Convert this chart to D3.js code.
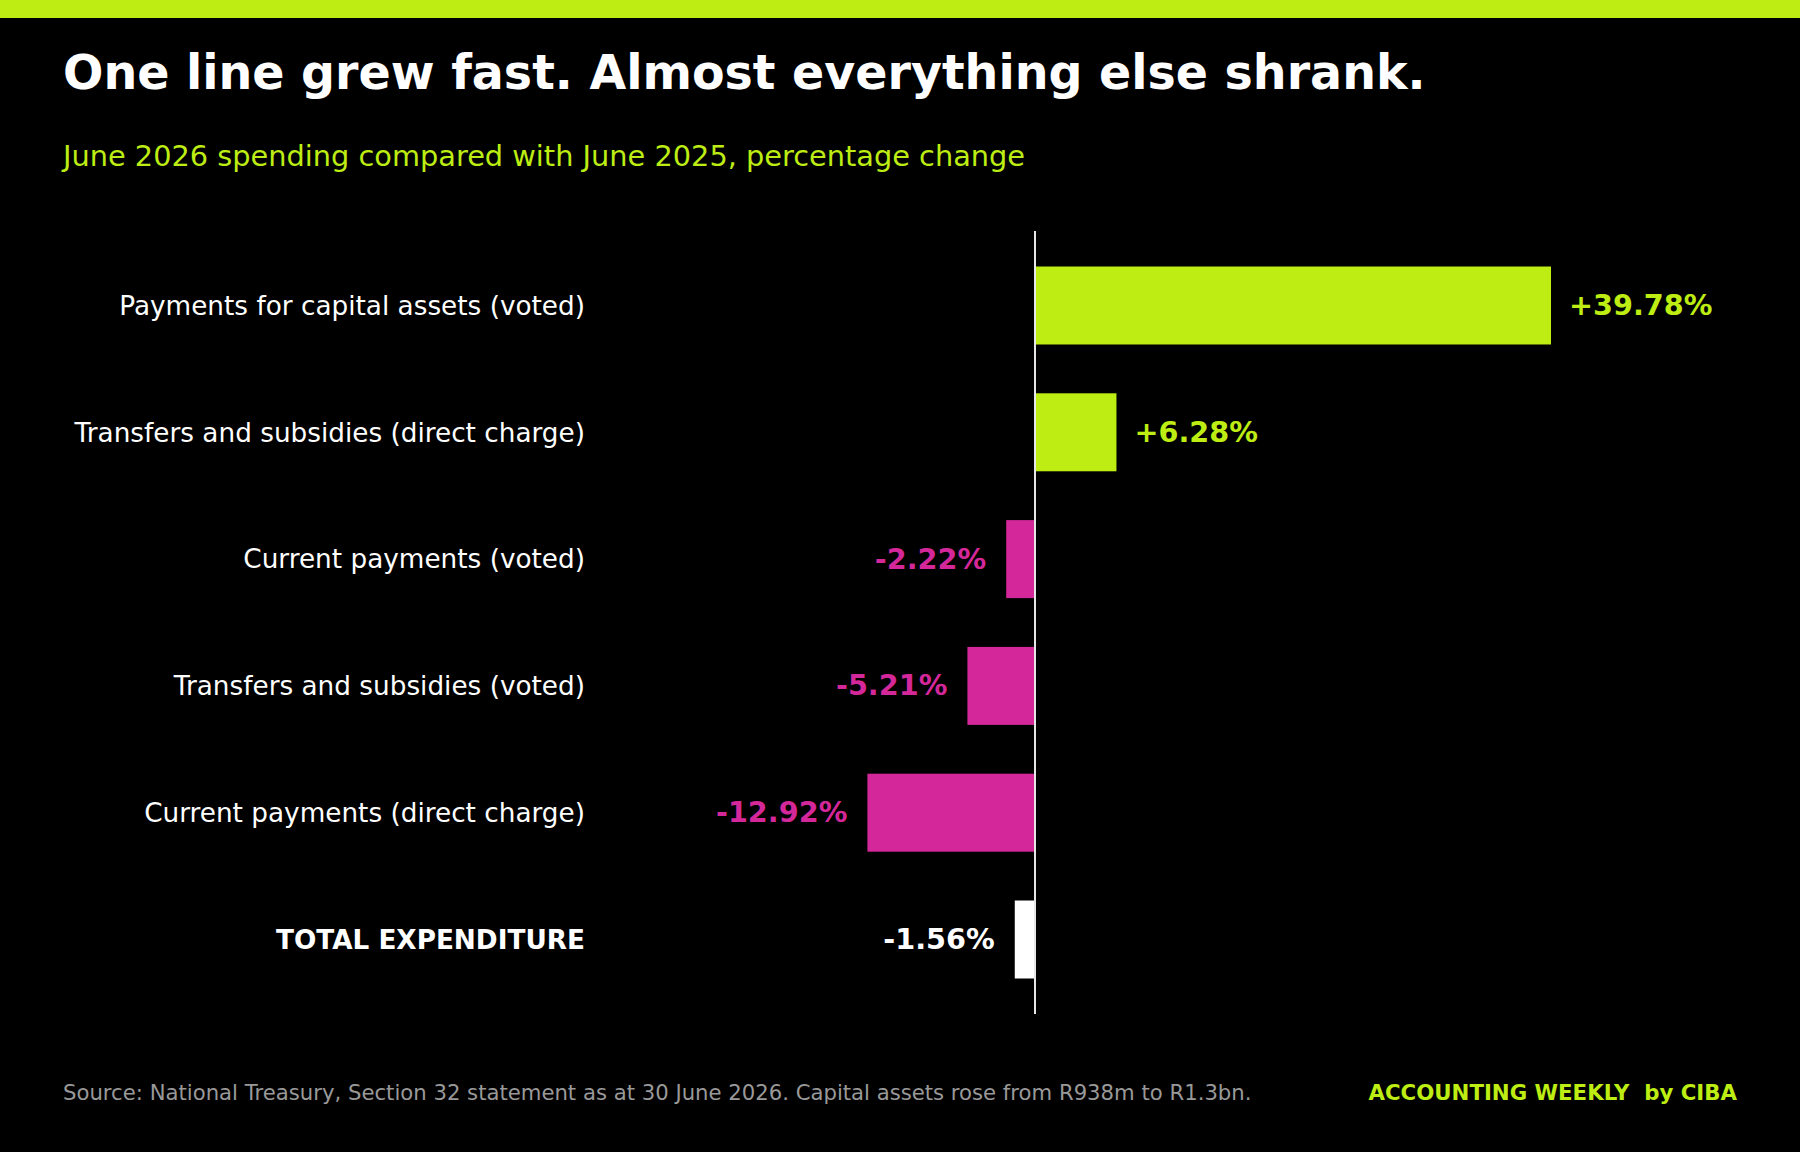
<!DOCTYPE html>
<html><head><meta charset="utf-8">
<script src="https://cdn.jsdelivr.net/npm/d3@7"></script>
<style>
html,body{margin:0;padding:0;background:#000;}
svg{display:block;font-family:"DejaVu Sans",sans-serif;}
</style></head>
<body>
<script>
const categories = [
  "Payments for capital assets (voted)",
  "Transfers and subsidies (direct charge)",
  "Current payments (voted)",
  "Transfers and subsidies (voted)",
  "Current payments (direct charge)",
  "TOTAL EXPENDITURE"
];
const values = [39.78, 6.28, -2.22, -5.21, -12.92, -1.56];
const valueLabels = ["+39.78%", "+6.28%", "-2.22%", "-5.21%", "-12.92%", "-1.56%"];
const totalCategory = "TOTAL EXPENDITURE";

const W = 1800, H = 1152;
const LIME = "#bded12", MAGENTA = "#d4289a", WHITE = "#ffffff";

const svg = d3.select("body").append("svg").attr("width", W).attr("height", H);
svg.append("rect").attr("width", W).attr("height", H).attr("fill", "#000");
svg.append("rect").attr("width", W).attr("height", 18).attr("fill", LIME);

svg.append("text").attr("x", 63).attr("y", 89).attr("fill", WHITE)
  .attr("font-size", 47.5).attr("font-weight", "bold")
  .text("One line grew fast. Almost everything else shrank.");
svg.append("text").attr("x", 63).attr("y", 166).attr("fill", LIME)
  .attr("font-size", 28.8)
  .text("June 2026 spending compared with June 2025, percentage change");

const x = d3.scaleLinear().domain([0, 39.78]).range([1035, 1551]);
const y = d3.scaleBand().domain(categories).range([231, 1014]).paddingInner(0.385).paddingOuter(0.28);

const color = (d, i) => categories[i] === totalCategory ? WHITE : (values[i] >= 0 ? LIME : MAGENTA);

const g = svg.append("g");
g.selectAll("rect.bar").data(values).join("rect").attr("class", "bar")
  .attr("x", d => x(Math.min(0, d)))
  .attr("width", d => Math.abs(x(d) - x(0)))
  .attr("y", (d, i) => y(categories[i]))
  .attr("height", y.bandwidth())
  .attr("fill", color);

g.append("line").attr("x1", x(0)).attr("x2", x(0)).attr("y1", 231).attr("y2", 1014)
  .attr("stroke", "#e6e6e6").attr("stroke-width", 2);

g.selectAll("text.val").data(values).join("text").attr("class", "val")
  .attr("x", d => d >= 0 ? x(d) + 18 : x(d) - 20)
  .attr("y", (d, i) => y(categories[i]) + y.bandwidth() / 2)
  .attr("dy", "0.33em")
  .attr("text-anchor", d => d >= 0 ? "start" : "end")
  .attr("font-size", 28.7).attr("font-weight", "bold")
  .attr("fill", color)
  .text((d, i) => valueLabels[i]);

g.selectAll("text.cat").data(categories).join("text").attr("class", "cat")
  .attr("x", 585)
  .attr("y", d => y(d) + y.bandwidth() / 2)
  .attr("dy", "0.35em")
  .attr("text-anchor", "end")
  .attr("font-size", 26.3)
  .attr("font-weight", d => d === totalCategory ? "bold" : "normal")
  .attr("fill", WHITE)
  .text(d => d);

svg.append("text").attr("x", 63).attr("y", 1100).attr("fill", "#999999")
  .attr("font-size", 21.2)
  .text("Source: National Treasury, Section 32 statement as at 30 June 2026. Capital assets rose from R938m to R1.3bn.");
svg.append("text").attr("x", 1737).attr("y", 1100).attr("fill", LIME)
  .attr("font-size", 21.3).attr("font-weight", "bold").attr("text-anchor", "end")
  .attr("xml:space", "preserve").style("white-space", "pre")
  .text("ACCOUNTING WEEKLY  by CIBA");
</script>
</body></html>
